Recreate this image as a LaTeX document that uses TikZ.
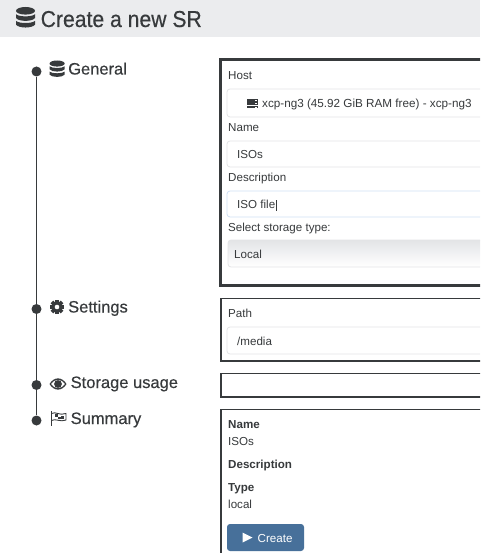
\documentclass[tikz,border=0pt]{standalone}
\usepackage{fontspec}
\setmainfont{Liberation Sans}
\newfontfamily\medfont[FakeBold=0.35]{Liberation Sans}
\newfontfamily\titlefont[FakeBold=0.4,FakeStretch=0.92]{Liberation Sans}
\definecolor{ink}{HTML}{373A3C}
\definecolor{head}{HTML}{EBECEE}
\definecolor{field}{HTML}{E3E4E6}
\definecolor{focus}{HTML}{CFE0F5}
\definecolor{btn}{HTML}{47709A}
\tikzset{
  txt/.style={anchor=base west,inner sep=0pt,text=ink},
  small/.style={txt,font=\fontsize{11.6}{13}\selectfont},
  strongtxt/.style={txt,font=\fontsize{11.6}{13}\selectfont\bfseries},
  step label/.style={txt,font=\fontsize{16.5}{18}\medfont},
  inputbox/.style={draw=field,line width=0.8pt,fill=white,rounded corners=3pt},
  panel/.style={draw=ink,line width=1.4pt,fill=white},
  bullet/.style={circle,fill=ink,inner sep=0pt,minimum size=10pt},
  rail/.style={draw=ink,line width=1pt},
  pics/dbicon/.style={code={
    \fill[ink] (10,4) ellipse [x radius=10,y radius=4];
    \foreach \yy in {7.6,14.6}{
      \fill[ink] (0,\yy) .. controls (3,\yy+3) and (17,\yy+3) .. (20,\yy) -- (20,\yy+4) .. controls (17,\yy+8) and (3,\yy+8) .. (0,\yy+4) -- cycle;
    }
  }}
}
\begin{document}
\begin{tikzpicture}[x=1pt,y=-1pt]
\useasboundingbox (0,0) rectangle (480,553);
\clip (0,0) rectangle (480,553);
\fill[white] (0,0) rectangle (480,553);
\fill[head] (0,0) rectangle (480,37);
% header
\pic[scale=0.95] at (16,7) {dbicon};
\node[txt,font=\fontsize{23}{26}\titlefont] (title) at (40.5,27) {Create a new SR};
% timeline
\node[bullet] (d1) at (36.5,71.5) {};
\node[bullet] (d2) at (36.5,309) {};
\node[bullet] (d3) at (36.5,385) {};
\node[bullet] (d4) at (36.5,420.5) {};
\draw[rail] (d1) -- (d2);
\draw[rail] (d2) -- (d3);
\draw[rail] (d3) -- (d4);
% step labels
\pic[scale=0.76] at (49.5,60.5) {dbicon};
\node[step label] (general) at (68,74.5) {General};
\begin{scope}[shift={(57,307)}]
  \foreach \a in {0,45,...,315}{\fill[ink,rotate=\a] (-1.8,-7.2) rectangle (1.8,0);}
  \fill[ink] (0,0) circle (5.6);
  \fill[white] (0,0) circle (2.3);
\end{scope}
\node[step label] (settings) at (68,312.5) {Settings};
\begin{scope}[shift={(58,384)}]
  \fill[ink] (-8.5,0) .. controls (-4,-7.5) and (4,-7.5) .. (8.5,0) .. controls (4,7.5) and (-4,7.5) .. (-8.5,0) -- cycle;
  \fill[white] (-6.8,0) .. controls (-3.5,-5.4) and (3.5,-5.4) .. (6.8,0) .. controls (3.5,5.4) and (-3.5,5.4) .. (-6.8,0) -- cycle;
  \fill[ink] (0,0) circle (3.9);
\end{scope}
\node[step label] (storage) at (70.5,388) {Storage usage};
\begin{scope}[shift={(50.5,411)}]
  \draw[ink,line width=1pt] (0.5,0) -- (0.5,14.5);
  \draw[ink,line width=0.9pt] (1,2.5) .. controls (5,0) and (9,5) .. (15.5,2.5) -- (15.5,9) .. controls (10,11.5) and (5,7) .. (1,9.5);
  \fill[ink] (4,3) rectangle (7,5.5);
  \fill[ink] (10,5) rectangle (13,7.5);
  \fill[ink] (7,5.5) rectangle (10,7.5);
\end{scope}
\node[step label] (summary) at (70.5,424) {Summary};
% general panel
\draw[draw=ink,line width=3pt,fill=white] (220,59.5) rectangle (490,285.5);
\node[small] (lhost) at (228,79.5) {Host};
\draw[inputbox] (227,89) rectangle (490,117);
\begin{scope}[shift={(247,99)}]
  \foreach \yy in {0,3.4,6.8}{\fill[ink] (0,\yy) rectangle (11,\yy+2.7);\fill[white] (7.5,\yy+0.9) rectangle (10,\yy+1.7);}
\end{scope}
\node[small,font=\fontsize{11.7}{13}\selectfont] (vhost) at (262,108) {xcp-ng3 (45.92 GiB RAM free) - xcp-ng3};
\node[small] (lname) at (228,131.5) {Name};
\draw[inputbox] (227,141) rectangle (490,167);
\node[small] (vname) at (237,158.5) {ISOs};
\node[small] (ldesc) at (228,181.5) {Description};
\draw[inputbox,draw=focus] (227,191) rectangle (490,217);
\node[small] (vdesc) at (237,208.5) {ISO file};
\draw[ink,line width=0.6pt] (vdesc.base east) ++(0.8,2) -- ++(0,-11);
\node[small] (ltype) at (228,231) {Select storage type:};
\shade[rounded corners=3pt,top color=field,bottom color=white,middle color=head!70!white] (228,240) rectangle (490,267);
\draw[inputbox,fill=none] (228,240) rectangle (490,267);
\node[small] (vtype) at (234,258) {Local};
% settings panel
\draw[panel] (221,298.5) rectangle (490,361);
\node[small] (lpath) at (228,317.5) {Path};
\draw[inputbox] (227,327) rectangle (490,354);
\node[small] (vpath) at (237,345.5) {/media};
% storage panel
\draw[panel] (221,373.5) rectangle (490,397);
% summary panel
\draw[panel] (221,409.5) rectangle (490,560);
\node[strongtxt] (sname) at (228,428.5) {Name};
\node[small] (svname) at (228,445.5) {ISOs};
\node[strongtxt] (sdesc) at (228,468.5) {Description};
\node[strongtxt] (stype) at (228,491.5) {Type};
\node[small] (svtype) at (228,508.5) {local};
\fill[btn,rounded corners=3pt] (227,524) rectangle (304,551);
\fill[white] (242.5,532.5) -- (252.5,537.5) -- (242.5,542.5) -- cycle;
\node[txt,text=white,font=\fontsize{11.6}{13}\selectfont] (create) at (257.5,542) {Create};
\end{tikzpicture}
\end{document}
